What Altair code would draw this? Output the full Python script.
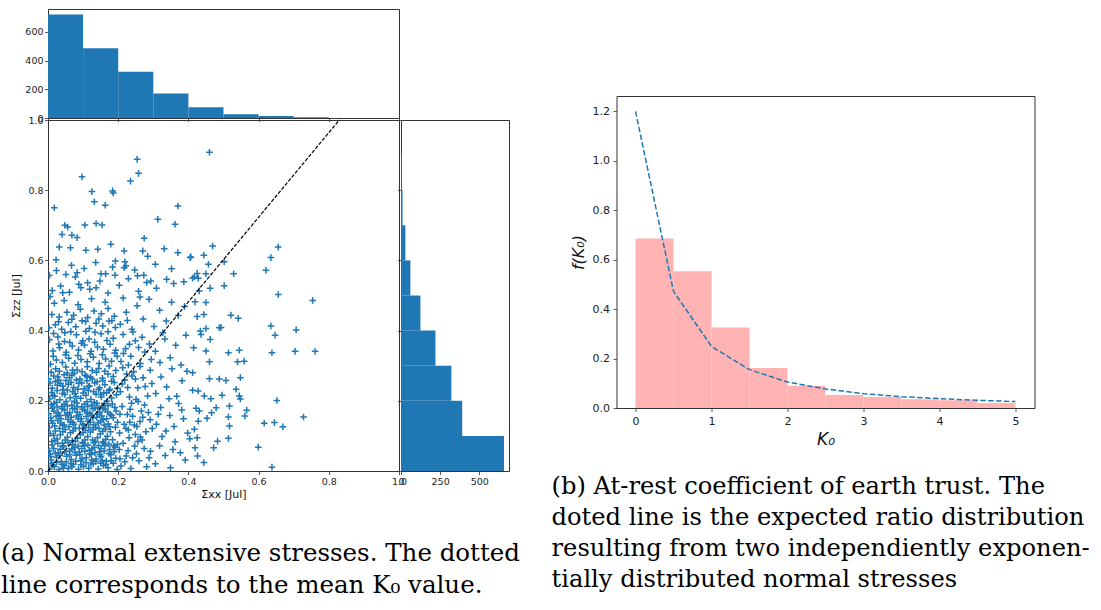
import altair as alt
import pandas as pd

# ---------------- data ----------------
# top histogram (Sigma_xx), counts per 0.1 bin
XX_BIN_LO = [0.0, 0.1, 0.2, 0.3, 0.4, 0.5, 0.6, 0.7]
XX_BIN_HI = [0.1, 0.2, 0.3, 0.4, 0.5, 0.6, 0.7, 0.8]
XX_COUNT = [721, 486, 323, 170, 75, 26, 14, 5]

# right histogram (Sigma_zz), counts per 0.1 bin
ZZ_BIN_LO = [0.0, 0.1, 0.2, 0.3, 0.4, 0.5, 0.6, 0.7, 0.8]
ZZ_BIN_HI = [0.1, 0.2, 0.3, 0.4, 0.5, 0.6, 0.7, 0.8, 0.9]
ZZ_COUNT = [658, 391, 322, 220, 124, 60, 28, 10, 5]

# mean K0 line
MEAN_LINE_X = [0.0, 0.83]
MEAN_LINE_Y = [0.0, 1.0]

# K0 density histogram and expected curve
K_BIN_LO = [0.0, 0.5, 1.0, 1.5, 2.0, 2.5, 3.0, 3.5, 4.0, 4.5]
K_BIN_HI = [0.5, 1.0, 1.5, 2.0, 2.5, 3.0, 3.5, 4.0, 4.5, 5.0]
K_DENSITY = [0.686, 0.553, 0.326, 0.162, 0.090, 0.053, 0.044, 0.035, 0.031, 0.020]
K_CURVE_X = [0.0, 0.5, 1.0, 1.5, 2.0, 2.5, 3.0, 3.5, 4.0, 4.5, 5.0]
K_CURVE_Y = [1.2, 0.472, 0.249, 0.155, 0.105, 0.077, 0.058, 0.046, 0.038, 0.031, 0.026]

# scatter points (Sigma_xx, Sigma_zz)
PTS_CORE_LOW = [
    (0.004, 0.006), (0.018, 0.012), (0.031, 0.004), (0.046, 0.015), (0.058, 0.007), (0.072, 0.019),
    (0.087, 0.005), (0.101, 0.013), (0.116, 0.008), (0.129, 0.021), (0.143, 0.006), (0.158, 0.016),
    (0.171, 0.009), (0.186, 0.022), (0.197, 0.004),
    (0.009, 0.031), (0.024, 0.039), (0.038, 0.027), (0.053, 0.042), (0.066, 0.033), (0.081, 0.045),
    (0.094, 0.029), (0.109, 0.038), (0.123, 0.047), (0.137, 0.034), (0.151, 0.041), (0.166, 0.028),
    (0.179, 0.046), (0.193, 0.036),
    (0.003, 0.058), (0.016, 0.064), (0.029, 0.052), (0.044, 0.069), (0.061, 0.057), (0.075, 0.066),
    (0.089, 0.054), (0.104, 0.071), (0.118, 0.059), (0.132, 0.067), (0.147, 0.055), (0.162, 0.072),
    (0.176, 0.061), (0.191, 0.068),
    (0.011, 0.084), (0.026, 0.091), (0.041, 0.079), (0.055, 0.096), (0.069, 0.086), (0.084, 0.093),
    (0.098, 0.081), (0.113, 0.098), (0.127, 0.088), (0.141, 0.095), (0.156, 0.083), (0.169, 0.099),
    (0.184, 0.089), (0.198, 0.076),
    (0.208, 0.014), (0.223, 0.043), (0.236, 0.007), (0.247, 0.071), (0.259, 0.029), (0.268, 0.088),
    (0.281, 0.012), (0.292, 0.056), (0.214, 0.079), (0.231, 0.095), (0.252, 0.049), (0.274, 0.064),
    (0.288, 0.038), (0.219, 0.026), (0.263, 0.097),
    (0.306, 0.021), (0.318, 0.072), (0.334, 0.044), (0.349, 0.009), (0.362, 0.083), (0.377, 0.052),
    (0.391, 0.031), (0.404, 0.092), (0.325, 0.098), (0.356, 0.061),
]
PTS_FILL_LOW = [
    (0.010, 0.022), (0.025, 0.025), (0.040, 0.019), (0.052, 0.026), (0.065, 0.021), (0.079, 0.028),
    (0.094, 0.018), (0.108, 0.024), (0.122, 0.020), (0.136, 0.027), (0.150, 0.022), (0.165, 0.019),
    (0.180, 0.030), (0.205, 0.035), (0.228, 0.058),
    (0.006, 0.048), (0.021, 0.051), (0.034, 0.044), (0.048, 0.055), (0.062, 0.046), (0.077, 0.053),
    (0.091, 0.047), (0.105, 0.056), (0.119, 0.049), (0.134, 0.052), (0.148, 0.046), (0.160, 0.057),
    (0.174, 0.050), (0.188, 0.055), (0.241, 0.038),
    (0.012, 0.074), (0.028, 0.078), (0.042, 0.072), (0.057, 0.081), (0.071, 0.075), (0.086, 0.071),
    (0.100, 0.079), (0.114, 0.074), (0.130, 0.081), (0.144, 0.073), (0.159, 0.079), (0.173, 0.077),
    (0.187, 0.072), (0.203, 0.061), (0.256, 0.084),
]
PTS_FILL_CORE = [
    (0.014, 0.017), (0.044, 0.008), (0.068, 0.012), (0.097, 0.035), (0.125, 0.031), (0.155, 0.030),
    (0.007, 0.041), (0.035, 0.062), (0.068, 0.063), (0.096, 0.064), (0.125, 0.063), (0.151, 0.064),
    (0.019, 0.087), (0.049, 0.088), (0.078, 0.085), (0.105, 0.088), (0.135, 0.084), (0.164, 0.090),
    (0.016, 0.101), (0.042, 0.112), (0.071, 0.115), (0.100, 0.110), (0.128, 0.118), (0.156, 0.113),
    (0.010, 0.143), (0.036, 0.137), (0.064, 0.140), (0.093, 0.141), (0.120, 0.138), (0.150, 0.142),
    (0.029, 0.166), (0.055, 0.163), (0.083, 0.168), (0.112, 0.167), (0.141, 0.162), (0.170, 0.168),
    (0.017, 0.192), (0.046, 0.190), (0.075, 0.199), (0.104, 0.190), (0.132, 0.196), (0.161, 0.192),
    (0.014, 0.215), (0.042, 0.242), (0.080, 0.212), (0.115, 0.240), (0.150, 0.218), (0.028, 0.268),
    (0.068, 0.273), (0.110, 0.270),
]
PTS_CORE_MID = [
    (0.006, 0.107), (0.021, 0.114), (0.035, 0.103), (0.049, 0.118), (0.064, 0.109), (0.078, 0.121),
    (0.092, 0.104), (0.107, 0.116), (0.121, 0.111), (0.136, 0.124), (0.149, 0.106), (0.164, 0.119),
    (0.178, 0.112), (0.192, 0.125),
    (0.013, 0.136), (0.028, 0.144), (0.042, 0.131), (0.057, 0.147), (0.071, 0.138), (0.086, 0.149),
    (0.099, 0.133), (0.114, 0.142), (0.128, 0.151), (0.143, 0.137), (0.157, 0.146), (0.172, 0.134),
    (0.186, 0.152),
    (0.002, 0.163), (0.017, 0.171), (0.033, 0.159), (0.047, 0.174), (0.062, 0.166), (0.076, 0.177),
    (0.091, 0.161), (0.105, 0.172), (0.119, 0.164), (0.134, 0.179), (0.148, 0.168), (0.163, 0.175),
    (0.177, 0.162), (0.194, 0.171),
    (0.009, 0.189), (0.024, 0.196), (0.039, 0.184), (0.052, 0.198), (0.068, 0.187), (0.082, 0.194),
    (0.096, 0.183), (0.111, 0.197), (0.125, 0.188), (0.139, 0.193), (0.154, 0.185), (0.168, 0.199),
    (0.183, 0.191),
    (0.204, 0.108), (0.217, 0.133), (0.229, 0.117), (0.241, 0.156), (0.253, 0.127), (0.266, 0.171),
    (0.279, 0.112), (0.291, 0.146), (0.211, 0.184), (0.226, 0.161), (0.238, 0.193), (0.249, 0.104),
    (0.262, 0.141), (0.275, 0.188), (0.286, 0.167), (0.297, 0.121), (0.233, 0.139), (0.257, 0.198),
    (0.309, 0.133), (0.321, 0.181), (0.336, 0.114), (0.347, 0.158), (0.359, 0.127), (0.372, 0.192),
    (0.386, 0.149), (0.398, 0.108), (0.314, 0.162), (0.381, 0.174),
]
PTS_FILL_MID = [
    (0.004, 0.124), (0.019, 0.128), (0.033, 0.121), (0.046, 0.131), (0.060, 0.126), (0.074, 0.133),
    (0.089, 0.122), (0.103, 0.129), (0.116, 0.124), (0.131, 0.132), (0.145, 0.121), (0.160, 0.131),
    (0.175, 0.126), (0.198, 0.139), (0.222, 0.121),
    (0.008, 0.151), (0.023, 0.156), (0.037, 0.149), (0.051, 0.158), (0.066, 0.153), (0.081, 0.157),
    (0.095, 0.149), (0.109, 0.155), (0.124, 0.159), (0.139, 0.153), (0.153, 0.157), (0.167, 0.149),
    (0.181, 0.158), (0.205, 0.162), (0.234, 0.176),
    (0.012, 0.179), (0.026, 0.182), (0.040, 0.177), (0.055, 0.185), (0.070, 0.178), (0.084, 0.183),
    (0.098, 0.176), (0.113, 0.184), (0.128, 0.177), (0.142, 0.181), (0.157, 0.179), (0.171, 0.186),
    (0.190, 0.181), (0.246, 0.131), (0.270, 0.153),
]
PTS_CORE_HIGH = [
    (0.005, 0.206), (0.019, 0.213), (0.034, 0.203), (0.048, 0.218), (0.063, 0.209), (0.077, 0.221),
    (0.093, 0.207), (0.108, 0.216), (0.122, 0.204), (0.137, 0.219), (0.152, 0.211), (0.167, 0.223),
    (0.181, 0.208), (0.195, 0.217),
    (0.012, 0.236), (0.027, 0.244), (0.043, 0.232), (0.058, 0.247), (0.073, 0.238), (0.088, 0.249),
    (0.103, 0.234), (0.118, 0.243), (0.133, 0.251), (0.147, 0.237), (0.162, 0.246), (0.176, 0.233),
    (0.189, 0.252),
    (0.001, 0.263), (0.016, 0.271), (0.031, 0.259), (0.046, 0.274), (0.061, 0.266), (0.075, 0.278),
    (0.091, 0.262), (0.106, 0.273), (0.121, 0.267), (0.138, 0.281), (0.155, 0.264), (0.171, 0.276),
    (0.186, 0.269),
    (0.022, 0.291), (0.051, 0.296), (0.083, 0.288), (0.112, 0.297), (0.144, 0.292), (0.174, 0.299),
    (0.206, 0.226), (0.219, 0.259), (0.232, 0.211), (0.244, 0.283), (0.256, 0.237), (0.271, 0.266),
    (0.284, 0.214), (0.296, 0.249), (0.213, 0.294), (0.239, 0.271), (0.262, 0.298), (0.277, 0.241),
    (0.291, 0.287), (0.227, 0.238), (0.251, 0.204),
    (0.307, 0.221), (0.322, 0.268), (0.338, 0.239), (0.353, 0.291), (0.367, 0.213), (0.382, 0.257),
    (0.396, 0.284), (0.345, 0.206),
]
PTS_FILL_HIGH = [
    (0.010, 0.224), (0.026, 0.229), (0.041, 0.221), (0.055, 0.231), (0.070, 0.226), (0.085, 0.233),
    (0.100, 0.222), (0.115, 0.229), (0.130, 0.226), (0.144, 0.232), (0.159, 0.223), (0.174, 0.229),
    (0.198, 0.236),
    (0.006, 0.251), (0.021, 0.255), (0.036, 0.249), (0.051, 0.258), (0.066, 0.252), (0.081, 0.259),
    (0.096, 0.251), (0.111, 0.257), (0.126, 0.262), (0.140, 0.254), (0.156, 0.258), (0.181, 0.256),
    (0.211, 0.248),
    (0.009, 0.281), (0.032, 0.284), (0.055, 0.279), (0.070, 0.287), (0.097, 0.283), (0.126, 0.286),
    (0.162, 0.284), (0.193, 0.286), (0.224, 0.276), (0.249, 0.262),
    (0.015, 0.327), (0.050, 0.331), (0.085, 0.329), (0.120, 0.334), (0.155, 0.331), (0.190, 0.336),
    (0.031, 0.362), (0.062, 0.366), (0.095, 0.364), (0.133, 0.367), (0.168, 0.372), (0.016, 0.392),
    (0.048, 0.394), (0.108, 0.398), (0.171, 0.397), (0.215, 0.335), (0.232, 0.361), (0.258, 0.352),
    (0.030, 0.425), (0.068, 0.432), (0.107, 0.426), (0.145, 0.433), (0.182, 0.428), (0.226, 0.429),
]
PTS_UPPER = [
    (0.007, 0.304), (0.024, 0.316), (0.041, 0.309), (0.059, 0.321), (0.076, 0.307), (0.094, 0.318),
    (0.112, 0.311), (0.129, 0.324), (0.146, 0.306), (0.164, 0.319), (0.181, 0.313), (0.197, 0.327),
    (0.014, 0.342), (0.033, 0.351), (0.052, 0.338), (0.069, 0.356), (0.087, 0.345), (0.104, 0.359),
    (0.123, 0.341), (0.141, 0.353), (0.158, 0.347), (0.177, 0.361), (0.193, 0.344),
    (0.004, 0.374), (0.028, 0.382), (0.047, 0.369), (0.081, 0.388), (0.117, 0.376), (0.151, 0.391),
    (0.186, 0.378), (0.065, 0.397), (0.099, 0.371), (0.134, 0.395),
    (0.208, 0.312), (0.221, 0.348), (0.236, 0.327), (0.249, 0.371), (0.263, 0.306), (0.276, 0.339),
    (0.289, 0.362), (0.214, 0.389), (0.242, 0.396), (0.268, 0.381), (0.294, 0.318), (0.229, 0.302),
    (0.306, 0.341), (0.319, 0.309), (0.333, 0.376), (0.348, 0.323), (0.364, 0.358), (0.379, 0.302),
    (0.393, 0.387), (0.327, 0.394),
    (0.003, 0.408), (0.021, 0.417), (0.039, 0.404), (0.058, 0.423), (0.079, 0.411), (0.097, 0.428),
    (0.118, 0.406), (0.137, 0.421), (0.156, 0.413), (0.174, 0.427), (0.192, 0.409),
    (0.011, 0.446), (0.032, 0.439), (0.054, 0.452), (0.073, 0.444), (0.092, 0.461), (0.113, 0.437),
    (0.131, 0.456), (0.152, 0.448), (0.171, 0.463), (0.189, 0.441),
    (0.018, 0.478), (0.046, 0.486), (0.086, 0.474), (0.124, 0.491), (0.163, 0.481), (0.006, 0.497),
    (0.206, 0.418), (0.223, 0.452), (0.239, 0.404), (0.254, 0.471), (0.271, 0.433), (0.288, 0.489),
    (0.302, 0.412), (0.318, 0.458), (0.337, 0.427), (0.352, 0.481), (0.371, 0.443), (0.389, 0.469),
    (0.214, 0.493), (0.262, 0.496),
    (0.012, 0.514), (0.036, 0.527), (0.061, 0.509), (0.088, 0.532), (0.119, 0.518), (0.148, 0.541),
    (0.171, 0.507), (0.203, 0.529), (0.229, 0.548), (0.258, 0.512), (0.281, 0.537), (0.309, 0.521),
    (0.338, 0.546), (0.024, 0.571), (0.067, 0.586), (0.103, 0.577), (0.136, 0.594), (0.184, 0.581),
    (0.219, 0.596), (0.247, 0.573), (0.306, 0.589), (0.352, 0.576), (0.078, 0.553), (0.164, 0.562),
    (0.273, 0.558),
]
PTS_OUTER = [
    (0.004, 0.557), (0.018, 0.750), (0.023, 0.602), (0.032, 0.638), (0.040, 0.674), (0.048, 0.700),
    (0.056, 0.695), (0.068, 0.672), (0.083, 0.665), (0.064, 0.636), (0.097, 0.838), (0.105, 0.701),
    (0.108, 0.629), (0.125, 0.796), (0.132, 0.767), (0.137, 0.705), (0.154, 0.701), (0.142, 0.632),
    (0.163, 0.757), (0.184, 0.798), (0.186, 0.792), (0.179, 0.646), (0.192, 0.598), (0.217, 0.627),
    (0.235, 0.826), (0.254, 0.888), (0.258, 0.848), (0.274, 0.663), (0.270, 0.627), (0.284, 0.612),
    (0.313, 0.717), (0.331, 0.633), (0.362, 0.703), (0.370, 0.755), (0.370, 0.622), (0.405, 0.608),
    (0.417, 0.553), (0.387, 0.539), (0.083, 0.565), (0.113, 0.536), (0.137, 0.522), (0.094, 0.522),
    (0.217, 0.579), (0.222, 0.585), (0.255, 0.556), (0.191, 0.558), (0.151, 0.562), (0.051, 0.560),
    (0.042, 0.508), (0.293, 0.541), (0.358, 0.534),
    (0.460, 0.908), (0.469, 0.641), (0.444, 0.615), (0.407, 0.610), (0.457, 0.589), (0.425, 0.563),
    (0.450, 0.562), (0.412, 0.549), (0.428, 0.549), (0.431, 0.513), (0.462, 0.521), (0.502, 0.596),
    (0.529, 0.562), (0.502, 0.528), (0.419, 0.482), (0.450, 0.480), (0.621, 0.572), (0.635, 0.608),
    (0.656, 0.638), (0.656, 0.503), (0.754, 0.486),
    (0.635, 0.413), (0.647, 0.387), (0.707, 0.402), (0.638, 0.337), (0.704, 0.341), (0.761, 0.341),
    (0.545, 0.344), (0.514, 0.337), (0.540, 0.311), (0.559, 0.313), (0.521, 0.444), (0.542, 0.435),
    (0.488, 0.408), (0.493, 0.409), (0.450, 0.406), (0.444, 0.446), (0.425, 0.440), (0.436, 0.389),
    (0.462, 0.375), (0.450, 0.342), (0.460, 0.263), (0.488, 0.262), (0.507, 0.258), (0.548, 0.266),
    (0.536, 0.233), (0.545, 0.214), (0.548, 0.205), (0.496, 0.216), (0.464, 0.206), (0.652, 0.201),
    (0.517, 0.185), (0.566, 0.173), (0.561, 0.157), (0.514, 0.154), (0.479, 0.180), (0.466, 0.166),
    (0.453, 0.150), (0.616, 0.136), (0.645, 0.138), (0.669, 0.126), (0.728, 0.154), (0.517, 0.128),
    (0.514, 0.093), (0.483, 0.085), (0.472, 0.066), (0.599, 0.068), (0.444, 0.024), (0.638, 0.011),
    (0.426, 0.043), (0.419, 0.066), (0.425, 0.095), (0.422, 0.179), (0.431, 0.171), (0.428, 0.142),
    (0.417, 0.119), (0.412, 0.230), (0.428, 0.228), (0.445, 0.214), (0.412, 0.280), (0.415, 0.351),
    (0.434, 0.399), (0.460, 0.311),
]

CAPTION_A = [
    "(a) Normal extensive stresses.  The dotted",
    "line corresponds to the mean K₀ value.",
]
CAPTION_B = [
    "(b) At-rest coefficient of earth trust.  The",
    "doted line is the expected ratio distribution",
    "resulting from two independiently exponen-",
    "tially distributed normal stresses",
]

# ---------------- styling ----------------
FONT = "DejaVu Sans"
SERIF = "DejaVu Serif"
BLUE = "#1f77b4"
PINK = "#FFB3B3"
PLUS = "M-1,0L1,0M0,-1L0,1"
UNIT_TICKS = [0.0, 0.2, 0.4, 0.6, 0.8, 1.0]

# ---------------- frames ----------------
top_df = pd.DataFrame({"lo": XX_BIN_LO, "hi": XX_BIN_HI, "n": XX_COUNT})
zz_df = pd.DataFrame({"lo": ZZ_BIN_LO, "hi": ZZ_BIN_HI, "n": ZZ_COUNT})
pts = (PTS_CORE_LOW + PTS_FILL_LOW + PTS_FILL_CORE + PTS_CORE_MID + PTS_FILL_MID
       + PTS_CORE_HIGH + PTS_FILL_HIGH + PTS_UPPER + PTS_OUTER)
pts_df = pd.DataFrame({"x": [p[0] for p in pts], "y": [p[1] for p in pts]})
mean_df = pd.DataFrame({"x": MEAN_LINE_X, "y": MEAN_LINE_Y})
kbar_df = pd.DataFrame({"x": K_BIN_LO, "x2": K_BIN_HI, "y": K_DENSITY})
kcurve_df = pd.DataFrame({"x": K_CURVE_X, "y": K_CURVE_Y})

# ---------------- top histogram ----------------
top = alt.Chart(top_df).mark_rect(color=BLUE).encode(
    x=alt.X("lo:Q", scale=alt.Scale(domain=[0, 1], nice=False, zero=False),
            axis=alt.Axis(values=UNIT_TICKS, labels=False), title=None),
    x2="hi:Q",
    y=alt.Y("n:Q", scale=alt.Scale(domain=[0, 760], nice=False),
            axis=alt.Axis(values=[0, 200, 400, 600]), title=None),
    y2=alt.datum(0),
).properties(width=351, height=109)

# ---------------- scatter ----------------
sx = alt.X("x:Q", scale=alt.Scale(domain=[0, 1], nice=False, zero=False),
           axis=alt.Axis(values=UNIT_TICKS, format=".1f", titlePadding=3), title="Σxx [Jul]")
sy = alt.Y("y:Q", scale=alt.Scale(domain=[0, 1], nice=False, zero=False),
           axis=alt.Axis(values=UNIT_TICKS, format=".1f", titlePadding=6), title="Σzz [Jul]")

points = alt.Chart(pts_df).mark_point(
    shape=PLUS, size=44, filled=False, strokeWidth=1.5, color=BLUE, opacity=1, clip=True
).encode(x=sx, y=sy)
mean_line = alt.Chart(mean_df).mark_line(
    color="black", strokeWidth=1.2, strokeDash=[3.7, 1.6]
).encode(x=sx, y=sy)

scatter = alt.layer(points, mean_line).properties(
    width=351, height=351,
    title=alt.TitleParams(
        text=CAPTION_A, orient="bottom", anchor="start", frame="group",
        dx=-47, offset=61.5, baseline="alphabetic", font=SERIF, fontSize=24.5,
        fontWeight="normal", color="black", lineHeight=32,
    ),
)

# ---------------- right histogram ----------------
right_hist = alt.Chart(zz_df).mark_rect(color=BLUE).encode(
    y=alt.Y("lo:Q", scale=alt.Scale(domain=[0, 1], nice=False, zero=False),
            axis=alt.Axis(values=UNIT_TICKS, labels=False), title=None),
    y2="hi:Q",
    x=alt.X("n:Q", scale=alt.Scale(domain=[0, 690], nice=False),
            axis=alt.Axis(values=[0, 250, 500]), title=None),
    x2=alt.datum(0),
).properties(width=108, height=351)

# ---------------- K0 panel ----------------
kx = alt.X("x:Q", scale=alt.Scale(domain=[-0.25, 5.25], nice=False, zero=False),
           axis=alt.Axis(values=[0, 1, 2, 3, 4, 5], labelFontSize=11, labelPadding=3.5,
                         titleFontSize=17, titleFontStyle="italic", titlePadding=5),
           title="K₀")
ky = alt.Y("y:Q", scale=alt.Scale(domain=[0, 1.262], nice=False),
           axis=alt.Axis(values=[0.0, 0.2, 0.4, 0.6, 0.8, 1.0, 1.2], format=".1f",
                         labelFontSize=11, labelPadding=3.5,
                         titleFontSize=16, titleFontStyle="italic", titlePadding=6),
           title="f(K₀)")

k_bars = alt.Chart(kbar_df).mark_rect(color=PINK).encode(x=kx, x2="x2:Q", y=ky, y2=alt.datum(0))
k_curve = alt.Chart(kcurve_df).mark_line(
    color=BLUE, strokeWidth=1.5, strokeDash=[5.5, 2.4]
).encode(x=kx, y=ky)

k_panel = alt.layer(k_bars, k_curve).properties(
    width=418, height=312,
    title=alt.TitleParams(
        text=CAPTION_B, orient="bottom", anchor="start", frame="group",
        dx=-65, offset=47, baseline="alphabetic", font=SERIF, fontSize=24.2,
        fontWeight="normal", color="black", lineHeight=31,
    ),
)


def blank(w, h):
    # an empty view used only to reserve space in the layout
    return alt.Chart(pd.DataFrame({"v": [0]})).mark_point(opacity=0).encode(
        x=alt.X("v:Q", axis=None), y=alt.Y("v:Q", axis=None)
    ).transform_filter(
        alt.datum.v > 1
    ).properties(width=w, height=h, view=alt.ViewBackground(stroke="transparent"))


# ---------------- layout ----------------
left = alt.concat(
    top, blank(108, 109), scatter, right_hist,
    columns=2, spacing=2, bounds="flush",
)
right = alt.vconcat(blank(418, 85), k_panel, spacing=2, bounds="flush")

chart = alt.hconcat(left, right, spacing=21.5, bounds="full").properties(
    padding={"left": 0, "top": 8, "right": 0, "bottom": 0},
    background="white",
).configure_view(
    stroke="#333", strokeWidth=1
).configure_axis(
    grid=False, domain=False, ticks=True, tickSize=3.5, tickWidth=0.8, tickColor="#333",
    labelFont=FONT, labelFontSize=9.5, labelColor="#222", labelPadding=1.5,
    labelFlush=False, labelOverlap=False,
    titleFont=FONT, titleFontSize=11, titleFontWeight="normal", titleColor="#111",
)

chart.save("out.html", embed_options={"renderer": "svg", "actions": False})
